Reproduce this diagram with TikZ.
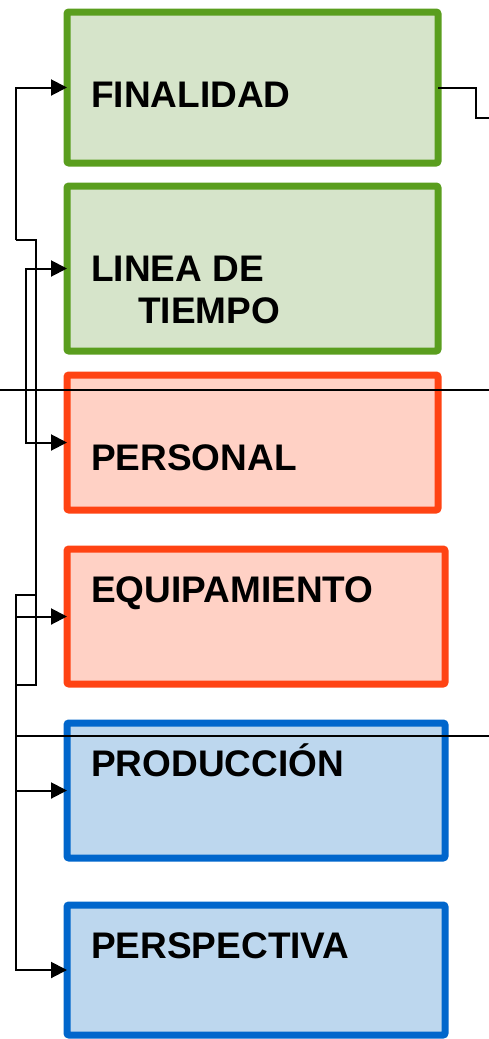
\documentclass[tikz,border=0pt]{standalone}
\usepackage{fontspec}
\setmainfont{Liberation Sans}
\usepackage{xcolor}
\usepackage{tikz}
\usetikzlibrary{positioning,calc,arrows.meta}

\definecolor{grnline}{HTML}{5A9E1E}
\definecolor{grnfill}{HTML}{D6E4CA}
\definecolor{redline}{HTML}{FF4313}
\definecolor{redfill}{HTML}{FFD1C5}
\definecolor{bluline}{HTML}{0066CC}
\definecolor{blufill}{HTML}{BDD7EE}

\begin{document}
\begin{tikzpicture}[x=1pt, y=-1pt,
        box/.style={draw, line width=7pt, rounded corners=2pt, inner sep=0pt, outer sep=0pt, anchor=north west},
        greenbox/.style={box, draw=grnline, fill=grnfill, minimum width=371pt},
        redbox/.style={box, draw=redline, fill=redfill},
        bluebox/.style={box, draw=bluline, fill=blufill, minimum width=378pt, minimum height=135pt},
        lbl/.style={anchor=base west, inner sep=0pt, font=\fontsize{37}{42}\selectfont\bfseries, align=left},
        conn/.style={line width=2pt},
        feed/.style={conn, -{Triangle[length=16pt,width=16pt]}},
        sepline/.style={line width=1.6pt}]
        \useasboundingbox (0,0) rectangle (489,1039);

        % boxes
        \node[greenbox, minimum height=151pt] (finalidad) at (67,12) {};
        \node[greenbox, minimum height=165pt] (linea) at (67,186) {};
        \node[redbox, minimum width=371pt, minimum height=135pt] (personal) at (67,375) {};
        \node[redbox, minimum width=378pt, minimum height=135pt] (equipamiento) at (67,549) {};
        \node[bluebox] (produccion) at (67,723) {};
        \node[bluebox, minimum height=130pt] (perspectiva) at (67,905) {};

        % texts
        \node[lbl] (tfin) at (91,107) {FINALIDAD};
        \node[lbl] (tlin) at (91,281) {LINEA DE};
        \node[lbl] (ttie) at (138,323) {TIEMPO};
        \node[lbl] (tper) at (91,470) {PERSONAL};
        \node[lbl] (tequ) at (91,602) {EQUIPAMIENTO};
        \node[lbl] (tpro) at (91,776) {PRODUCCIÓN};
        \node[lbl] (tpsp) at (91,958) {PERSPECTIVA};

        % bus points
        \coordinate (busTop) at (16,240);
        \coordinate (busMid) at (36,240);
        \coordinate (loopA) at (16,595);
        \coordinate (loopB) at (36,595);
        \coordinate (loopC) at (36,685);
        \coordinate (loopD) at (16,685);
        \coordinate (exitR) at (489,118);
        \coordinate (sepAw) at (0,390);
        \coordinate (sepAe) at (489,390);
        \coordinate (sepBw) at (16,736);
        \coordinate (sepBe) at (489,736);

        % connectors
        \draw[feed] (busTop) |- (finalidad.west);
        \draw[conn] (busTop) -- (busMid) -- (loopC) -- (loopD) -- (loopA) -- (loopB);
        \draw[feed] (loopD) |- (perspectiva.west);
        \draw[feed] (loopA |- equipamiento.west) -- (equipamiento.west);
        \draw[feed] (loopA |- produccion.west) -- (produccion.west);
        \draw[conn, {Triangle[length=16pt,width=16pt]}-{Triangle[length=16pt,width=16pt]}]
            (linea.west) -- ++(-41,0) |- (personal.west);
        \draw[conn] (finalidad.east) -- ++(38,0) |- (exitR);

        % separators
        \draw[sepline] (sepAw) -- (sepAe);
        \draw[sepline] (sepBw) -- (sepBe);
\end{tikzpicture}
\end{document}
